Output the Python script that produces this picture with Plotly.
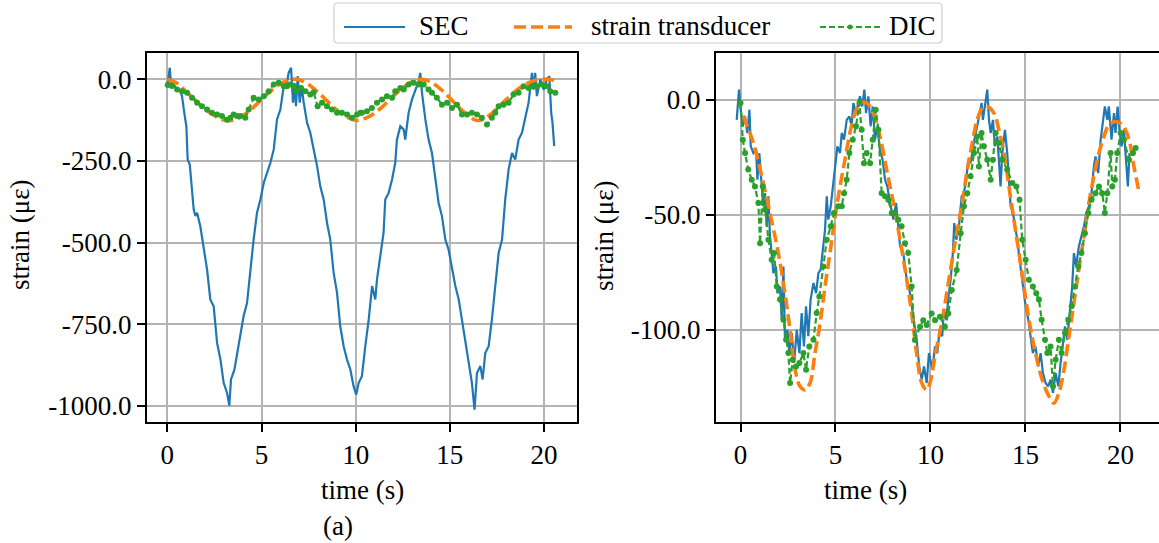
import plotly.graph_objects as go

# ---------------- data ----------------
# left panel: SEC
t_sec_a = [0.02, 0.13, 0.2, 0.34, 0.52, 0.69, 0.78, 0.83, 0.9, 1.01, 1.08, 1.19, 1.31, 1.4, 1.49, 1.58,
           1.75, 1.93, 2.11, 2.28, 2.46, 2.64, 2.82, 2.99, 3.17, 3.29, 3.38, 3.56, 3.7, 3.88, 4.05, 4.23,
           4.41, 4.58, 4.76, 4.94, 5.12, 5.29, 5.47, 5.65, 5.82, 6.0, 6.09, 6.18, 6.35, 6.44, 6.57, 6.67,
           6.74, 6.83, 6.92, 7.03, 7.13, 7.24, 7.42, 7.59, 7.77, 7.95, 8.12, 8.3, 8.48, 8.65, 8.83, 9.01,
           9.18, 9.36, 9.54, 9.72, 9.89, 10.03, 10.16,
           10.33, 10.51, 10.69, 10.87, 11.04, 11.13, 11.31, 11.48, 11.57, 11.75, 11.93, 12.1, 12.19, 12.37,
           12.55, 12.63, 12.72, 12.81, 12.99, 13.17, 13.34, 13.43, 13.52, 13.7, 13.87, 14.05, 14.23, 14.4,
           14.58, 14.76, 14.93, 15.11, 15.29, 15.47, 15.64, 15.82, 16.0, 16.17, 16.31, 16.44, 16.62, 16.74,
           16.88, 17.06, 17.23, 17.41, 17.59, 17.77, 17.94, 18.12, 18.3, 18.47, 18.65, 18.83, 19.0, 19.18,
           19.36, 19.45, 19.53, 19.62, 19.8, 19.98, 20.15, 20.28, 20.38, 20.45, 20.54]
sec_a = [-12, 35, -22, -16, -32, -37, -52, -83, -103, -144, -246, -261, -328, -399, -419, -409,
         -450, -511, -583, -674, -695, -807, -858, -929, -960, -999, -919, -889, -838, -776, -725, -685,
         -583, -491, -409, -368, -317, -287, -256, -215, -124, -93, -62, -22, -11, 19, 35, -72,
         -11, -83, 9, -72, -22, -72, -134, -164, -215, -266, -328, -368, -440, -491, -593, -654,
         -756, -817, -858, -889, -940, -965, -929,
         -909, -817, -736, -633, -674, -613, -532, -470, -368, -348, -307, -256, -185, -144,
         -154, -185, -144, -103, -62, -32, -6, 19, -42, -124, -185, -226, -307, -378,
         -419, -491, -521, -583, -633, -674, -736, -787, -858, -929, -1011, -899, -878, -919,
         -838, -817, -736, -633, -532, -491, -368, -276, -226, -246, -185, -164, -124, -72,
         19, -32, 19, -52, -1, -32, -1, 9, -103, -134, -205]

# left panel: strain transducer
t_st_a = [0, 0.5, 1.0, 1.5, 2.0, 2.5, 3.0, 3.3, 3.6, 4.0, 4.5, 5.0, 5.5, 6.0, 6.5, 6.8, 7.1, 7.5, 8.0,
          8.5, 9.0, 9.5, 10.0, 10.5, 11.0, 11.5, 12.0, 12.5, 13.0, 13.4, 13.8, 14.2, 14.6, 15.0, 15.5,
          16.0, 16.4, 16.8, 17.2, 17.6, 18.0, 18.5, 19.0, 19.5, 20.0, 20.4, 20.7]
st_a = [0, -12, -38, -65, -92, -112, -125, -127, -124, -112, -90, -62, -36, -14, -2, 0, -4, -16, -40,
        -68, -95, -115, -126, -120, -104, -80, -52, -26, -8, -1, -4, -16, -35, -58, -88,
        -113, -126, -122, -106, -84, -62, -36, -16, -4, 0, -2, -8]

# left panel: DIC
t_dic_a = [0.02, 0.25, 0.52, 0.78, 1.05, 1.31, 1.58, 1.84, 2.11, 2.37, 2.64, 2.9, 3.17, 3.35, 3.52,
           3.7, 3.88, 4.14, 4.32, 4.58, 4.85, 5.12, 5.38, 5.65, 5.91, 6.18, 6.35, 6.53, 6.71, 6.88,
           7.1, 7.33, 7.59, 7.77, 7.98, 8.21, 8.48, 8.74, 9.01, 9.27, 9.54, 9.8, 10.07, 10.25,
           10.33, 10.6, 10.86, 11.13, 11.4, 11.66, 11.93, 12.1, 12.37, 12.55, 12.81, 13.08, 13.34, 13.61,
           13.87, 14.05, 14.31, 14.58, 14.85, 15.11, 15.38, 15.64, 15.91, 16.17, 16.44, 16.7, 16.97,
           17.23, 17.41, 17.59, 17.85, 18.12, 18.38, 18.65, 18.92, 19.18, 19.36, 19.62, 19.89, 20.15,
           20.33, 20.6]
dic_a = [-18, -21, -32, -37, -42, -57, -72, -83, -93, -103, -108, -113, -124, -118, -108,
         -113, -113, -118, -93, -57, -62, -52, -37, -16, -11, -22, -22, -16, -22, -37,
         -27, -37, -47, -40, -83, -72, -83, -93, -103, -103, -108, -118, -108, -103,
         -103, -98, -88, -72, -62, -52, -57, -37, -27, -32, -16, -11, -16, -16,
         -32, -42, -57, -78, -72, -88, -78, -108, -108, -103, -108, -118, -139,
         -118, -103, -83, -78, -72, -47, -42, -22, -27, -22, -22, -16, -22,
         -37, -42]

# right panel: SEC
t_sec_b = [-0.2, -0.08, 0.01, 0.12, 0.24, 0.36, 0.47, 0.54, 0.68, 0.82, 0.89, 0.99, 1.12, 1.2, 1.29,
           1.38, 1.47, 1.55, 1.64, 1.73, 1.87, 1.94, 2.08, 2.17, 2.26, 2.34, 2.47, 2.57, 2.7, 2.82,
           2.96, 3.1, 3.22, 3.34, 3.45, 3.57, 3.69, 3.84, 3.98, 4.1, 4.22, 4.33, 4.45, 4.54, 4.62,
           4.75, 4.89, 4.98, 5.1, 5.24, 5.33, 5.45, 5.59, 5.73, 5.85, 5.94, 6.08, 6.2, 6.29, 6.41,
           6.52, 6.61, 6.73, 6.85, 6.96, 7.08, 7.2, 7.34, 7.48, 7.61, 7.73, 7.84, 7.96, 8.05, 8.19,
           8.31, 8.4, 8.57, 8.75, 8.89, 9.01, 9.13, 9.27, 9.41, 9.54, 9.66, 9.8,
           9.92, 10.1, 10.24, 10.36, 10.48, 10.62, 10.71, 10.83, 10.97, 11.06, 11.18, 11.25, 11.36,
           11.5, 11.64, 11.76, 11.88, 11.99, 12.11, 12.24, 12.34, 12.46, 12.59, 12.69, 12.76, 12.87,
           12.99, 13.08, 13.17, 13.29, 13.39, 13.52, 13.6, 13.69, 13.78, 13.92, 14.04, 14.13, 14.22,
           14.34, 14.45, 14.57, 14.69, 14.83, 15.01, 15.15, 15.27, 15.39, 15.53, 15.67, 15.8, 15.92,
           16.06, 16.2, 16.32, 16.45, 16.59, 16.73, 16.85, 16.97, 17.08, 17.2, 17.32, 17.46, 17.55,
           17.67, 17.81, 17.95, 18.08, 18.2, 18.34, 18.48, 18.6, 18.69, 18.83, 18.96, 19.04, 19.18,
           19.31, 19.39, 19.53, 19.66, 19.74, 19.85, 19.95, 20.06, 20.18, 20.31, 20.39, 20.48]
sec_b = [-8.8, 4.3, -4.4, -11.6, -7.3, -14.5, -4.4, -20.3, -23.2, -21.8, -34.8, -23.2, -37.7, -46.3, -40.6,
         -55.0, -42.0, -59.4, -66.6, -75.3, -72.4, -84.0, -81.1, -95.5, -72.4, -104.2, -99.9, -110.0, -101.3, -114.3,
         -99.9, -110.0, -92.6, -107.1, -89.7, -102.7, -86.8, -79.6, -84.0, -75.3, -73.8, -65.2, -56.5, -42.0, -52.1,
         -46.3, -34.8, -27.6, -20.3, -23.2, -14.5, -17.4, -8.8, -7.3, -11.6, -1.5, -5.9, -1.5, 1.4, -3.0,
         4.3, -5.9, 1.4, -11.6, -3.0, -17.4, -11.6, -21.8, -26.1, -34.8, -37.7, -43.5, -47.8, -52.1, -44.9,
         -55.0, -63.7, -66.6, -78.2, -82.5, -89.7, -97.0, -104.2, -115.8, -121.5, -115.8, -123.0,
         -110.0, -117.2, -107.1, -110.0, -99.9, -102.7, -91.2, -95.5, -84.0, -78.2, -66.6, -53.6, -60.8,
         -55.0, -42.0, -40.6, -34.8, -26.1, -27.6, -20.3, -16.0, -11.6, -5.9, -1.5, -8.8, -3.0,
         4.3, -8.8, -14.5, -8.8, -20.3, -16.0, -26.1, -37.7, -23.2, -13.1, -23.2, -34.8, -46.3,
         -49.2, -55.0, -60.8, -69.5, -78.2, -89.7, -95.5, -102.7, -110.0, -107.1, -115.8, -110.0, -118.7,
         -123.0, -124.4, -121.5, -127.3, -118.7, -124.4, -114.3, -107.1, -98.4, -104.2, -92.6, -81.1, -66.6,
         -72.4, -63.7, -59.4, -55.0, -49.2, -46.3, -40.6, -29.0, -24.7, -31.9, -17.4, -11.6, -3.0,
         -8.8, -3.0, -17.4, -5.9, -14.5, -3.0, -13.1, -20.3, -13.1, -26.1, -37.7, -23.2]

# right panel: strain transducer
t_st_b = [0.13, 0.68, 1.12, 1.55, 1.99, 2.34, 2.61, 2.87, 3.13, 3.4, 3.66, 3.92, 4.19, 4.45, 4.71,
          4.98, 5.24, 5.5, 5.76, 6.03, 6.29, 6.64, 6.99, 7.34, 7.69, 8.05, 8.4, 8.75, 9.01, 9.27,
          9.54, 9.8, 10.0, 10.27, 10.62, 10.97, 11.32, 11.67, 11.94, 12.2, 12.46, 12.73, 12.99, 13.34,
          13.6, 13.87, 14.13, 14.39, 14.66, 14.92, 15.18, 15.53, 15.88, 16.24, 16.5, 16.76, 17.03,
          17.29, 17.55, 17.81, 18.08, 18.34, 18.6, 18.87, 19.13, 19.39, 19.74, 20.1, 20.45, 20.71, 20.97]
st_b = [-7, -18.9, -33.3, -49.2, -66.6, -84, -100, -117, -124.4, -126, -123, -110, -97, -81, -66.6,
        -50.7, -37.7, -26, -14.5, -5.9, -1.5, -1.5, -5.9, -16, -30.4, -44.9, -60.8, -78.2, -92.6, -110,
        -123, -126, -122, -110, -95.5, -78.2, -60.8, -44.9, -30.4, -18.9, -8.8, -3.7, -3, -5.9,
        -13.1, -23.2, -37.7, -52.1, -66.6, -81.1, -95.5, -110, -121.5, -128.8, -131.7, -127.3, -117.2,
        -102.7, -88.3, -73.8, -59.4, -44.9, -33.3, -23.2, -16, -11, -9.5, -11, -17.4, -29, -39.8]

# right panel: DIC
t_dic_b = [0.0, 0.12, 0.24, 0.41, 0.59, 0.76, 0.94, 1.03, 1.17, 1.29, 1.47, 1.64, 1.77, 1.91, 2.08,
           2.26, 2.4, 2.52, 2.61, 2.75, 2.92, 3.1, 3.31, 3.45, 3.62, 3.84, 4.01, 4.15, 4.36, 4.54,
           4.75, 4.92, 5.15, 5.33, 5.45, 5.59, 5.73, 5.91, 6.08, 6.26, 6.38, 6.5, 6.64, 6.82, 6.96,
           7.12, 7.26, 7.43, 7.61, 7.78, 7.96, 8.13, 8.31, 8.48, 8.66, 8.83, 9.01, 9.18, 9.45, 9.62,
           9.8, 10.06, 10.24, 10.5, 10.76, 10.94, 11.12, 11.38, 11.59, 11.76, 11.94, 12.11, 12.29, 12.46,
           12.55, 12.69, 12.81, 12.99, 13.17, 13.29, 13.43, 13.6, 13.78, 14.04, 14.31, 14.52, 14.69,
           14.83, 15.01, 15.18, 15.39, 15.57, 15.71, 15.85, 16.03, 16.15, 16.32, 16.45, 16.59, 16.76,
           16.9, 17.08, 17.25, 17.43, 17.6, 17.78, 17.95, 18.13, 18.31, 18.48, 18.69, 18.87, 19.04,
           19.18, 19.31, 19.48, 19.57, 19.71, 19.83, 20.01, 20.18, 20.45, 20.66, 20.8]
dic_b = [-1.5, -17.4, -23.2, -30.4, -34.8, -37.7, -44.9, -62.3, -37.7, -47.8, -60.8, -69.5, -66.6, -81.1, -86.8,
         -95.5, -104.2, -110, -123, -112.9, -115.8, -114.3, -110, -117.2, -107.1, -104.2, -92.6, -85.4, -72.4, -60.8,
         -55, -49.2, -46.3, -46.3, -40.6, -34.8, -23.2, -17.4, -11.6, -1.5, -13.1, -27.6, -23.2, -27.6, -17.4,
         -4.4, -13.1, -40.6, -42, -43.5, -49.2, -49.2, -52.1, -55, -62.3, -66.6, -81.1, -104.3, -98.6, -95.7,
         -97.8, -92.8, -95.7, -94.2, -98.6, -92.8, -82.6, -74, -58, -46.3, -40.6, -33.3, -23.2, -16,
         -29, -14.5, -20.3, -26.1, -34.8, -26.1, -14.5, -18.9, -26.1, -30.4, -36.2, -37.7, -43.5,
         -60.8, -69.5, -78.2, -81.1, -84, -86.8, -95.5, -104.2, -110, -107.1, -124.4, -112.9, -104.2,
         -110, -101.3, -95.5, -89.7, -81.1, -72.4, -66.6, -58, -49.2, -43.5, -40.6, -37.7, -40.6,
         -49.2, -40.6, -23.2, -37.7, -34.8, -23.2, -14.5, -17.4, -26.1, -23.2, -21]

for a, b in [(t_sec_a, sec_a), (t_st_a, st_a), (t_dic_a, dic_a),
             (t_sec_b, sec_b), (t_st_b, st_b), (t_dic_b, dic_b)]:
    assert len(a) == len(b), (len(a), len(b))

# axis ticks
x_ticks = [0, 5, 10, 15, 20]
y_ticks_a = [-1000, -750, -500, -250, 0]
y_text_a = ["-1000.0", "-750.0", "-500.0", "-250.0", "0.0"]
y_ticks_b = [-100, -50, 0]
y_text_b = ["-100.0", "-50.0", "0.0"]

series_names = ["SEC", "strain transducer", "DIC"]

# ---------------- styling ----------------
W, H = 1159, 543
FONT = "Liberation Serif"
BLUE, ORANGE, GREEN = "#1f77b4", "#ff7f0e", "#2ca02c"


def px(x):
    return x / W


def py(y):
    return 1 - y / H


fig = go.Figure()

for xa, ya, ts, s, tt, st, td, d in [
    ("x", "y", t_sec_a, sec_a, t_st_a, st_a, t_dic_a, dic_a),
    ("x2", "y2", t_sec_b, sec_b, t_st_b, st_b, t_dic_b, dic_b),
]:
    fig.add_trace(go.Scatter(x=ts, y=s, xaxis=xa, yaxis=ya, mode="lines", name=series_names[0],
                             line=dict(color=BLUE, width=2.2), showlegend=False))
    fig.add_trace(go.Scatter(x=tt, y=st, xaxis=xa, yaxis=ya, mode="lines", name=series_names[1],
                             line=dict(color=ORANGE, width=3.6, dash="12px,5px", shape="spline"),
                             showlegend=False))
    fig.add_trace(go.Scatter(x=td, y=d, xaxis=xa, yaxis=ya, mode="lines+markers", name=series_names[2],
                             line=dict(color=GREEN, width=2.2, dash="6px,3px"),
                             marker=dict(size=6, color=GREEN), showlegend=False))

axis_common = dict(
    ticks="outside", ticklen=8, tickwidth=1.6, tickcolor="black",
    showgrid=True, gridcolor="#b4b4b4", gridwidth=1.6,
    showline=True, linecolor="black", linewidth=2,
    zeroline=False, tickfont=dict(family=FONT, size=27, color="black"),
)
ydom = [py(422), py(53)]

fig.update_layout(
    width=W, height=H,
    margin=dict(l=0, r=0, t=0, b=0),
    paper_bgcolor="white", plot_bgcolor="white",
    font=dict(family=FONT, color="black"),
    showlegend=False,
    xaxis=dict(domain=[px(147), px(577)], range=[-1.08, 21.75], tickvals=x_ticks,
               anchor="y", mirror=True, **axis_common),
    yaxis=dict(domain=ydom, range=[-1049, 80], tickvals=y_ticks_a, ticktext=y_text_a,
               anchor="x", mirror=True, **axis_common),
    xaxis2=dict(domain=[px(716), 1.0], range=[-1.29, 22.03], tickvals=x_ticks,
                anchor="y2", mirror=True, **axis_common),
    yaxis2=dict(domain=ydom, range=[-139.9, 20.2], tickvals=y_ticks_b, ticktext=y_text_b,
                anchor="x2", mirror=False, **axis_common),
)

ann = []
TF = dict(family=FONT, size=27, color="black")
ann.append(dict(text="time (s)", x=px(362), y=py(490), xref="paper", yref="paper",
                showarrow=False, font=TF, xanchor="center", yanchor="middle"))
ann.append(dict(text="time (s)", x=px(865), y=py(490), xref="paper", yref="paper",
                showarrow=False, font=TF, xanchor="center", yanchor="middle"))
ann.append(dict(text="strain (με)", x=px(20), y=py(235), xref="paper", yref="paper",
                showarrow=False, font=TF, textangle=-90, xanchor="center", yanchor="middle"))
ann.append(dict(text="strain (με)", x=px(604), y=py(236), xref="paper", yref="paper",
                showarrow=False, font=TF, textangle=-90, xanchor="center", yanchor="middle"))
ann.append(dict(text="(a)", x=px(338), y=py(526), xref="paper", yref="paper",
                showarrow=False, font=TF, xanchor="center", yanchor="middle"))

# legend (drawn manually to match the reference layout)
LY = 26
for name, x0 in zip(series_names, [417, 589, 887]):
    ann.append(dict(text=name, x=px(x0), y=py(LY), xref="paper", yref="paper",
                    showarrow=False, font=TF, xanchor="left", yanchor="middle"))

bx0, bx1, by0, by1, r = 334, 942, 3, 43, 4
path = (f"M{px(bx0 + r)},{py(by0)} L{px(bx1 - r)},{py(by0)} Q{px(bx1)},{py(by0)} {px(bx1)},{py(by0 + r)} "
        f"L{px(bx1)},{py(by1 - r)} Q{px(bx1)},{py(by1)} {px(bx1 - r)},{py(by1)} "
        f"L{px(bx0 + r)},{py(by1)} Q{px(bx0)},{py(by1)} {px(bx0)},{py(by1 - r)} "
        f"L{px(bx0)},{py(by0 + r)} Q{px(bx0)},{py(by0)} {px(bx0 + r)},{py(by0)} Z")
shapes = [
    dict(type="path", path=path, xref="paper", yref="paper",
         line=dict(color="#d0d0d0", width=1.2), fillcolor="white", layer="above"),
    dict(type="line", xref="paper", yref="paper", x0=px(344), x1=px(405), y0=py(LY + 1), y1=py(LY + 1),
         line=dict(color=BLUE, width=2.2)),
    dict(type="line", xref="paper", yref="paper", x0=px(514), x1=px(572), y0=py(LY + 1), y1=py(LY + 1),
         line=dict(color=ORANGE, width=3.6, dash="12px,5px")),
    dict(type="line", xref="paper", yref="paper", x0=px(820), x1=px(880), y0=py(LY + 1), y1=py(LY + 1),
         line=dict(color=GREEN, width=2.0, dash="6px,3px")),
    dict(type="circle", xref="paper", yref="paper", x0=px(847.5), x1=px(852.5),
         y0=py(LY + 3.5), y1=py(LY - 1.5), line=dict(color=GREEN, width=0), fillcolor=GREEN),
]
fig.update_layout(annotations=ann, shapes=shapes)

fig.write_html("out.html")
